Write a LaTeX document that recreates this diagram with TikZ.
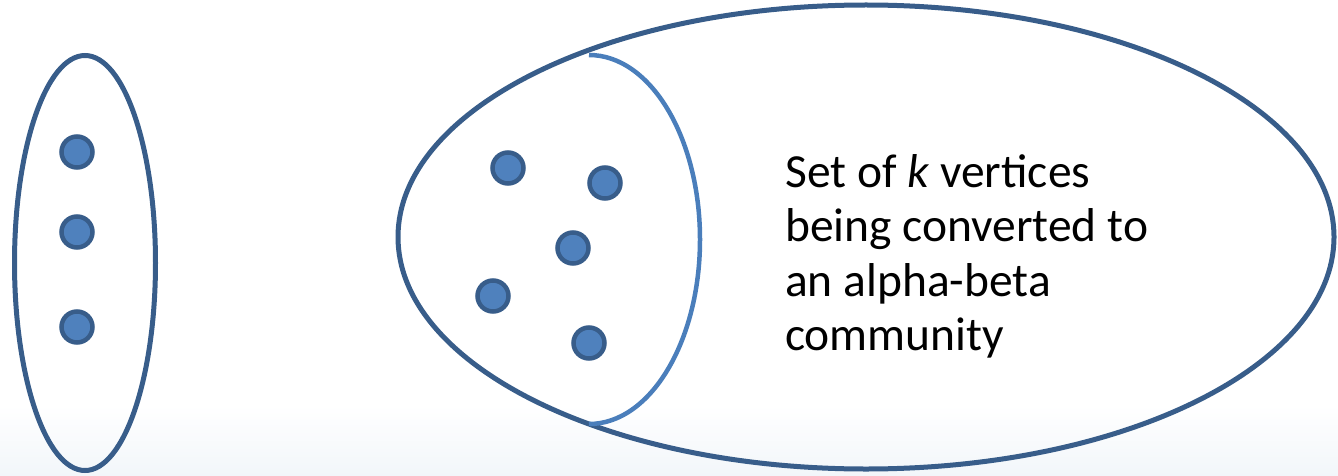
\documentclass[tikz,border=0pt]{standalone}
\usepackage{fontspec}
\setmainfont{Carlito}
\usetikzlibrary{shapes.geometric}
\definecolor{outl}{HTML}{385D8A}
\definecolor{dotfill}{HTML}{4F81BD}
\definecolor{arcblue}{HTML}{4A7EBB}
\definecolor{bgblue}{HTML}{F2F6FA}
\begin{document}
\begin{tikzpicture}[x=1pt,y=-1pt,
  setell/.style={draw=outl,line width=5pt,ellipse,inner sep=0pt},
  vert/.style={circle,draw=outl,fill=dotfill,line width=4.5pt,minimum size=31pt,inner sep=0pt},
  arcline/.style={draw=arcblue,line width=4.5pt},
  label/.style={font=\fontsize{47.5pt}{54.5pt}\selectfont,align=left,anchor=north west,inner sep=0pt}]
\useasboundingbox (0,0) rectangle (1338,476);
\shade[top color=white,bottom color=bgblue] (0,405) rectangle (1338,476);
\node[setell,minimum width=141pt,minimum height=415pt] (left) at (85,263) {};
\node[vert] (l1) at (77,152) {};
\node[vert] (l2) at (77,232) {};
\node[vert] (l3) at (77,327) {};
\node[setell,minimum width=936pt,minimum height=464pt] (big) at (866,237) {};
\coordinate (atop) at (589,55);
\coordinate (abot) at (589,424);
\draw[arcline] (atop) arc[start angle=-90,end angle=90,x radius=111,y radius=184.5];
\node[vert] (v1) at (508,168) {};
\node[vert] (v2) at (605,183) {};
\node[vert] (v3) at (573,248) {};
\node[vert] (v4) at (493,296) {};
\node[vert] (v5) at (589,343) {};
\node[label] (txt) at (785,154) {Set of \textit{k} vertices\\being converted to\\an alpha-beta\\community};
\end{tikzpicture}
\end{document}
